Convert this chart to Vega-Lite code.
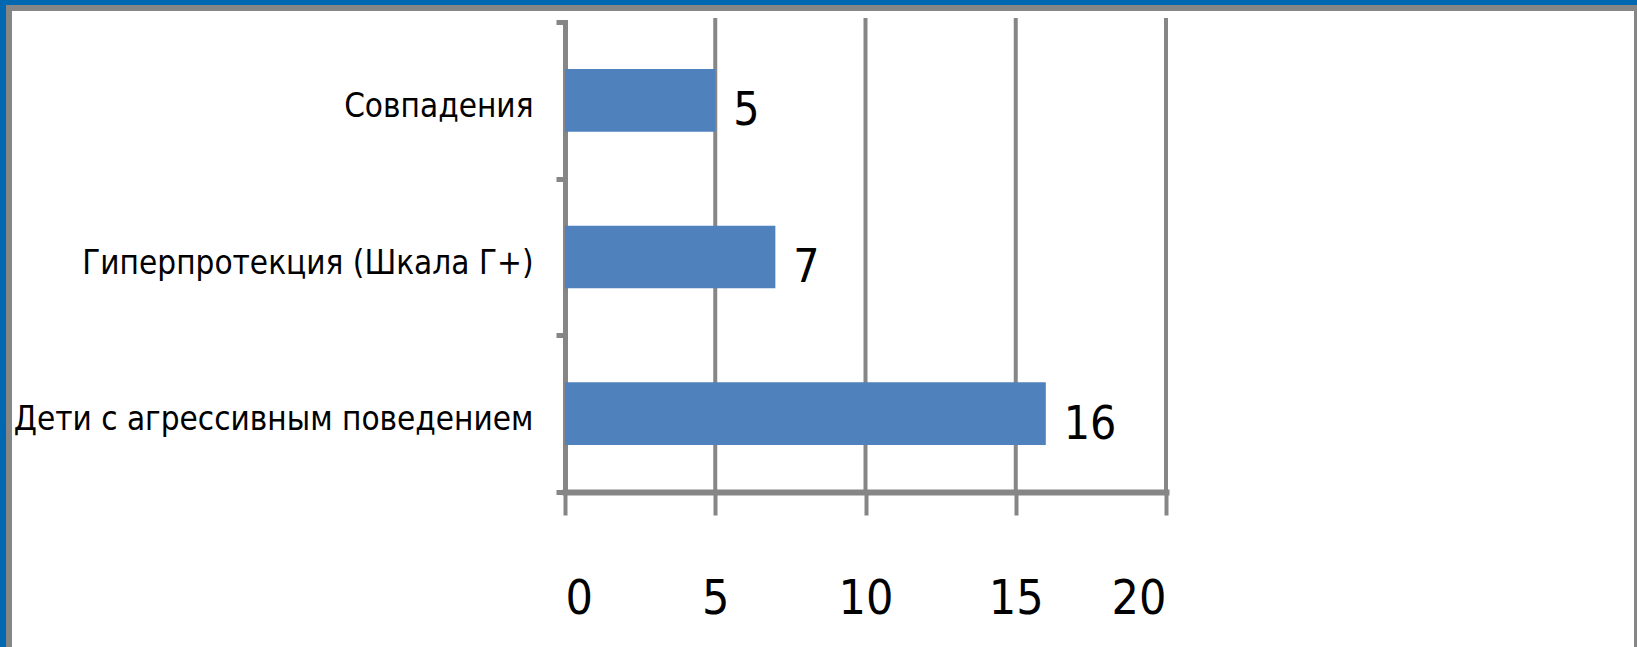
{
  "$schema": "https://vega.github.io/schema/vega-lite/v6.json",
  "width": 1628,
  "height": 643,
  "autosize": {"type": "none"},
  "padding": {"left": 9, "top": 8, "right": 0, "bottom": 0},
  "background": "#0068b0",
  "config": {
    "view": {"fill": "white", "stroke": "#868686", "strokeWidth": 6},
    "font": "DejaVu Sans Condensed, Roboto, sans-serif"
  },
  "datasets": {
    "bars": [
      {"category": "Совпадения", "value": 5},
      {"category": "Гиперпротекция (Шкала Г+)", "value": 7},
      {"category": "Дети с агрессивным поведением", "value": 16}
    ],
    "grid": [{"v": 5}, {"v": 10}, {"v": 15}, {"v": 20}]
  },
  "resolve": {"scale": {"y": "independent"}, "axis": {"y": "independent"}},
  "layer": [
    {
      "data": {"name": "grid"},
      "mark": {"type": "rule", "color": "#868686", "strokeWidth": 4},
      "encoding": {
        "x": {"field": "v", "type": "quantitative"},
        "y": {"datum": 0, "type": "quantitative", "scale": {"domain": [0, 1], "range": [10, 484]}, "axis": null},
        "y2": {"datum": 1}
      }
    },
    {
      "data": {"name": "bars"},
      "layer": [
        {
          "mark": {"type": "bar", "color": "#4f81bd", "height": {"band": 0.4}},
          "encoding": {
            "x": {
              "field": "value", "type": "quantitative",
              "scale": {"domain": [0, 20], "range": [556, 1157], "nice": false, "zero": true},
              "axis": {
                "orient": "bottom", "offset": -159, "values": [0, 5, 10, 15, 20], "format": "d", "grid": false,
                "domainColor": "#868686", "domainWidth": 6, "domainCap": "square",
                "tickColor": "#868686", "tickWidth": 4, "tickSize": 23,
                "labelFontSize": 48, "labelPadding": 60, "labelColor": "#000000", "title": null
              }
            },
            "y": {
              "field": "category", "type": "nominal", "sort": null,
              "scale": {"range": [14, 484], "paddingInner": 0, "paddingOuter": 0},
              "axis": {
                "orient": "left", "offset": -556, "tickBand": "extent",
                "domainColor": "#868686", "domainWidth": 5, "domainCap": "square",
                "tickColor": "#868686", "tickWidth": 5, "tickSize": 9,
                "labelFontSize": 33, "labelPadding": 23, "labelOffset": 6, "labelLimit": 1000, "labelColor": "#000000", "title": null
              }
            }
          }
        },
        {
          "mark": {"type": "text", "align": "left", "baseline": "middle", "dx": 18, "dy": 11, "fontSize": 46, "color": "#000000"},
          "encoding": {
            "x": {"field": "value", "type": "quantitative"},
            "y": {"field": "category", "type": "nominal", "sort": null},
            "text": {"field": "value", "type": "quantitative", "format": "d"}
          }
        }
      ]
    }
  ]
}
